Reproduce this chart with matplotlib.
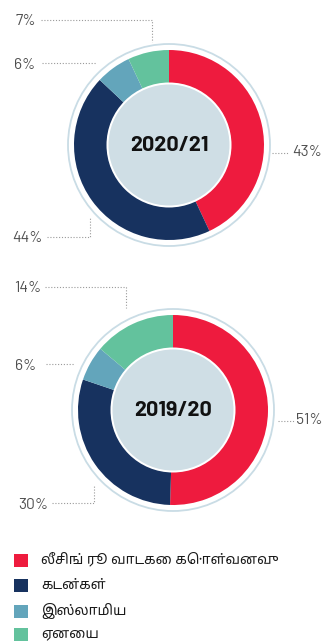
import matplotlib
matplotlib.use("Agg")
import matplotlib.pyplot as plt
from matplotlib.patches import Circle, Rectangle

# Portfolio mix by product (percent of total)
categories = ["லீசிங் ரூ வாடகை கொள்வனவு", "கடன்கள்", "இஸ்லாமிய", "ஏனைய"]
colors = ["#EE1B3E", "#17325F", "#63A5BB", "#63C29D"]
years = ["2020/21", "2019/20"]
share_2021 = [43, 44, 6, 7]
share_2020 = [51, 30, 6, 14]

W, H = 333, 644
fig = plt.figure(figsize=(W / 100, H / 100), dpi=100)
ax = fig.add_axes([0, 0, 1, 1])

NUM_FONT = ["Barlow", "DejaVu Sans"]
TAMIL_FONT = ["Noto Sans Tamil", "Lohit Tamil", "DejaVu Sans"]
LABEL_COLOR = "#4f4f4f"
LEADER = dict(color="#9a9a9a", lw=0.8, linestyle=(0, (1, 1.6)))


def Y(y):
    return H - y


def donut(values, cx, cy, title):
    c = (cx, Y(cy))
    ax.pie(values, colors=colors, startangle=90, counterclock=False,
           radius=95, center=c, wedgeprops=dict(linewidth=0))
    ax.add_patch(Circle(c, 101, fill=False, edgecolor="#C9DCE5", lw=1.3))
    ax.add_patch(Circle(c, 62.5, facecolor="white", edgecolor="none", zorder=3))
    ax.add_patch(Circle(c, 60.5, facecolor="#CFDEE5", edgecolor="none", zorder=4))
    ax.text(cx, Y(cy), title, ha="center", va="center", fontsize=15.5,
            fontweight="bold", family=NUM_FONT, color="#111111", zorder=5)


def label(text, tx, ty, ha, path):
    ax.text(tx, Y(ty), text, ha=ha, va="center", fontsize=11.2,
            family=NUM_FONT, color=LABEL_COLOR)
    xs, ys = zip(*path)
    ax.plot(xs, [Y(v) for v in ys], **LEADER)


# 2020/21
donut(share_2021, 169, 145, years[0])
label(f"{share_2021[3]}%", 36, 21, "right", [(41, 20), (152, 20), (152, 42)])
label(f"{share_2021[2]}%", 35, 65, "right", [(42, 63), (96, 63)])
label(f"{share_2021[0]}%", 292, 152, "left", [(272, 153), (289, 153)])
label(f"{share_2021[1]}%", 43, 238, "right", [(47, 237), (90, 237), (90, 218)])

# 2019/20
donut(share_2020, 173, 410, years[1])
label(f"{share_2020[3]}%", 41, 288, "right", [(45, 287), (126, 287), (126, 308)])
label(f"{share_2020[2]}%", 36, 366, "right", [(46, 364), (74, 364)])
label(f"{share_2020[0]}%", 296, 420, "left", [(278, 421), (294, 421)])
label(f"{share_2020[1]}%", 48, 505, "right", [(52, 503), (94, 503), (94, 485)])

# Legend
row_y = [560, 585, 611, 634]
for name, col, ry in zip(categories, colors, row_y):
    ax.add_patch(Rectangle((14, Y(ry) - 7), 13.5, 13.5, facecolor=col, edgecolor="none"))
    ax.text(41, Y(ry), name, ha="left", va="center", fontsize=10,
            family=TAMIL_FONT, color="#1a1a1a")

ax.set_xlim(0, W)
ax.set_ylim(0, H)
ax.set_aspect("equal")
ax.axis("off")
fig.savefig("out.png", dpi=100, facecolor="white")
